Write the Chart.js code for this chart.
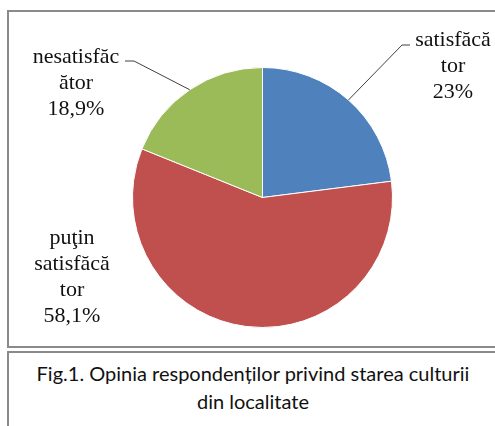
<!DOCTYPE html>
<html>
<head>
<meta charset="utf-8">
<script src="https://cdn.jsdelivr.net/npm/chart.js@4"></script>
<style>
  body { margin: 0; width: 495px; height: 426px; overflow: hidden; background: #fff; position: relative; }
  #frame { position: absolute; left: 7px; top: 10px; width: 500px; height: 334px; border: 2px solid #8a8a8a; }
  #capbox { position: absolute; left: 7px; top: 351px; width: 500px; height: 100px; border: 2px solid #8a8a8a; }
  #cv { position: absolute; left: 0; top: 0; }
  .lbl { position: absolute; font-family: 'Liberation Serif', 'DejaVu Serif', serif; font-size: 22px; line-height: 26px; text-align: center; color: #111; }
  #caption { position: absolute; left: 7px; top: 359px; width: 492px; text-align: center; font-family: Lato, "Open Sans", sans-serif; font-size: 20px; line-height: 28px; color: #111; }
</style>
</head>
<body>
<div id="frame"></div>
<div id="capbox"></div>
<canvas id="cv" width="495" height="348"></canvas>
<div class="lbl" id="l0" style="left:403px; top:26px; width:100px;">satisfăcă<br>tor<br>23%</div>
<div class="lbl" id="l1" style="left:12px; top:224px; width:120px;">puţin<br>satisfăcă<br>tor<br>58,1%</div>
<div class="lbl" id="l2" style="left:21px; top:43px; width:110px;">nesatisfăc<br>ător<br>18,9%</div>
<div id="caption">Fig.1. Opinia respondenților privind starea culturii<br>din localitate</div>
<script>
var categorii = ["satisfăcător", "puţin satisfăcător", "nesatisfăcător"];
var procente = [23, 58.1, 18.9];
var culori = ["#4F81BD", "#C0504D", "#9BBB59"];

// unde se termina liniile de legatura (cot si capat), null = fara linie
var ghidaje = [
    { cot: [402, 45], capat: [410, 45] },
    null,
    { cot: [134, 61], capat: [125, 61] }
];

var liniiEtichete = {
    id: 'liniiEtichete',
    afterDatasetsDraw: function (chart) {
        var c = chart.ctx;
        var arcs = chart.getDatasetMeta(0).data;
        c.save();
        c.strokeStyle = '#404040';
        c.lineWidth = 1;
        arcs.forEach(function (arc, i) {
            var g = ghidaje[i];
            if (!g) return;
            var mid = (arc.startAngle + arc.endAngle) / 2;
            var x0 = arc.x + Math.cos(mid) * arc.outerRadius;
            var y0 = arc.y + Math.sin(mid) * arc.outerRadius;
            c.beginPath();
            c.moveTo(x0, y0);
            c.lineTo(g.cot[0], g.cot[1]);
            c.lineTo(g.capat[0], g.capat[1]);
            c.stroke();
        });
        c.restore();
    }
};

var pieChart = new Chart(document.getElementById("cv"), {
    type: 'pie',
    data: {
        labels: categorii,
        datasets: [{
            data: procente,
            backgroundColor: culori,
            borderColor: '#ffffff',
            borderWidth: 1
        }]
    },
    options: {
        responsive: false,
        animation: false,
        layout: { padding: { left: 132, right: 102, top: 67, bottom: 20 } },
        plugins: {
            legend: { display: false },
            tooltip: { enabled: false }
        }
    },
    plugins: [liniiEtichete]
});
</script>
</body>
</html>
